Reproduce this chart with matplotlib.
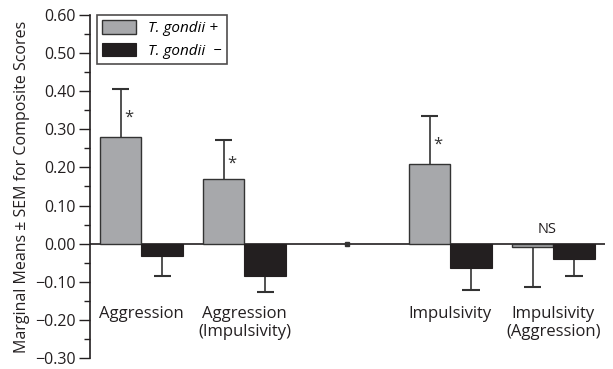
import matplotlib.pyplot as plt
import numpy as np

groups = ['Aggression', 'Aggression\n(Impulsivity)', '', 'Impulsivity', 'Impulsivity\n(Aggression)']
pos_means = [0.281, 0.169, 0.0, 0.208, -0.009]
pos_sem = [0.125, 0.104, 0.0, 0.128, 0.106]
neg_means = [-0.033, -0.085, 0.0, -0.065, -0.041]
neg_sem = [0.052, 0.043, 0.0, 0.057, 0.044]
marks = ['*', '*', '', '*', 'NS']
legend_labels = ['T. gondii +', 'T. gondii  \u2212']

plt.rcParams['font.family'] = ['Open Sans', 'DejaVu Sans']

fig = plt.figure(figsize=(6.13, 3.69), dpi=100)
ax = fig.add_axes([0.1468, 0.03, 0.84, 0.9293])

x = np.arange(len(groups))
w = 0.4
gray = '#a7a8ab'
black = '#231f20'
ecol = '#333333'
real = np.array([g != '' for g in groups])

ax.bar(x[real] - w / 2, np.array(pos_means)[real], w, color=gray, edgecolor=ecol, linewidth=1.0,
       label=legend_labels[0], zorder=2)
ax.bar(x[real] + w / 2, np.array(neg_means)[real], w, color=black, edgecolor=black, linewidth=0.8,
       label=legend_labels[1], zorder=2)

# one-sided error bars in the direction of the mean
cap = 0.083
for i in x[real]:
    for off, m, s in ((-w / 2, pos_means[i], pos_sem[i]), (w / 2, neg_means[i], neg_sem[i])):
        end = m + s if m > 0 else m - s
        ax.vlines(i + off, m, end, color=ecol, lw=1.2, zorder=1)
        ax.hlines(end, i + off - cap, i + off + cap, color=ecol, lw=1.5, zorder=1)

# empty slot marker
ax.plot(x[~real], np.zeros((~real).sum()), marker='s', ms=2.5, color=ecol, ls='none', zorder=3)

for i, mk in enumerate(marks):
    if mk == '*':
        ax.text(i - w / 2 + 0.08, pos_means[i] + 0.4 * pos_sem[i], '*', ha='center', va='center',
                fontsize=12, color=ecol)
    elif mk == 'NS':
        ax.text(i - 0.06, 0.017, 'NS', ha='center', va='bottom', fontsize=10.5, color=black)

for i, g in enumerate(groups):
    if g:
        ax.text(i, -0.163, g, ha='center', va='top', fontsize=12, color=black, linespacing=1.2)

ax.axhline(0, color=black, lw=1.2, zorder=1)
ax.set_xlim(-0.5, 4.5)
ax.set_ylim(-0.30, 0.60)
ticks = np.arange(-0.30, 0.601, 0.10)
ax.set_yticks(ticks)
ax.set_yticklabels(['%.2f' % v if v >= -0.001 else '\u2212%.2f' % abs(v) for v in ticks])
ax.set_yticks(np.arange(-0.25, 0.6, 0.10), minor=True)
ax.tick_params(axis='y', which='major', length=8, width=1, labelsize=11.5, colors=black, pad=2)
ax.tick_params(axis='y', which='minor', length=4, width=1, colors=black)
ax.set_xticks([])
for side in ('top', 'right', 'bottom'):
    ax.spines[side].set_visible(False)
ax.spines['left'].set_color(black)
ax.spines['left'].set_linewidth(1.2)
ax.set_ylabel('Marginal Means \u00b1 SEM for Composite Scores', fontsize=11.5, color=black, labelpad=4)

leg = ax.legend(loc='upper left', bbox_to_anchor=(0.0136, 1.0), borderaxespad=0, frameon=True,
                fancybox=False, edgecolor=black, fontsize=11, handlelength=2.2, handleheight=1.0,
                borderpad=0.35, labelspacing=0.4, handletextpad=0.8)
leg.get_frame().set_linewidth(1.2)
for t in leg.get_texts():
    t.set_fontstyle('italic')

fig.savefig('out.png', dpi=100)
